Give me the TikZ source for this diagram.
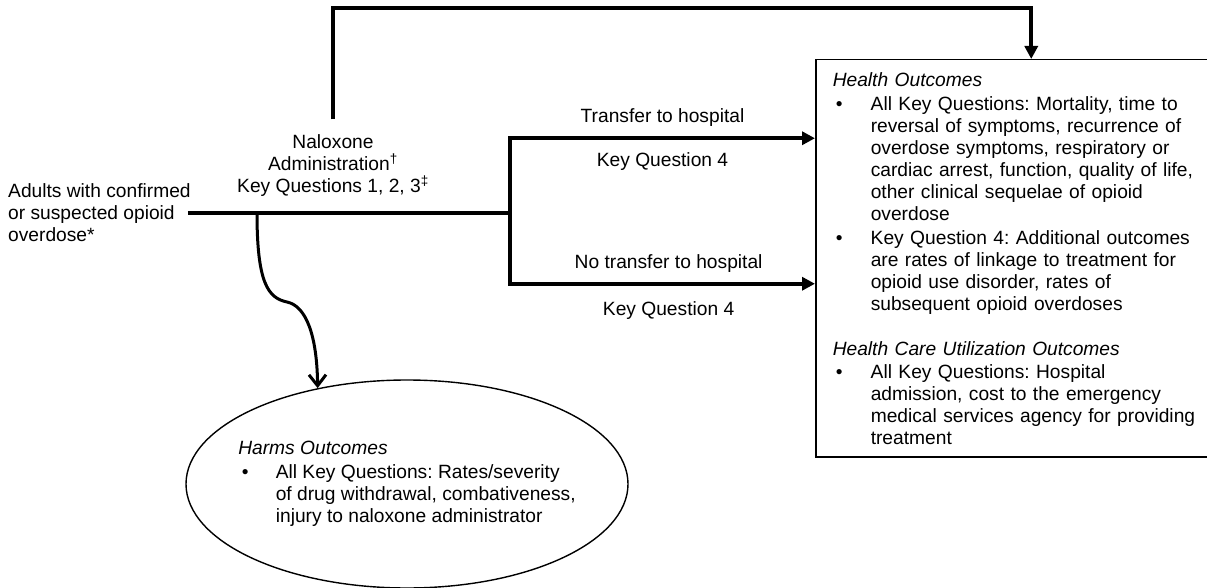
\documentclass[tikz,border=0pt]{standalone}
\usepackage{fontspec}
\setmainfont{Liberation Sans}
\usepackage{array}
\usetikzlibrary{arrows.meta,shapes.geometric}

\newcommand{\outhead}[1]{\multicolumn{2}{@{}l@{}}{\itshape #1}}
\frenchspacing

\tikzset{
  flow/.style={line width=4pt},
  arr/.style={flow, -{Triangle[length=13pt,width=13pt]}},
  harmarr/.style={line width=3pt, -{Straight Barb[length=11pt,width=17pt]}},
  lbl/.style={inner sep=0pt, align=center},
  outbox/.style={draw, line width=1.5pt, rectangle, inner ysep=0pt, inner xsep=17pt,
    text width=380pt, align=left, minimum height=397pt},
  harmsshape/.style={draw, line width=1.4pt, ellipse, inner sep=0pt,
    minimum width=442pt, minimum height=208pt}
}

\begin{document}
\begin{tikzpicture}[x=1pt, y=-1pt, font=\fontsize{19.2}{22}\selectfont]
	\useasboundingbox (0,0) rectangle (1207,588);

	\node [lbl, align=left, anchor=west] (adults) at (8,213)
		{Adults with confirmed\\or suspected opioid\\overdose*};
	\node [lbl, inner ysep=15.5pt] (nalox) at (333,166)
		{Naloxone\\Administration\textsuperscript{†}\\Key Questions 1, 2, 3\textsuperscript{‡}};

	\node [outbox, anchor=north west] (health) at (815,59) {%
		\begin{tabular}{@{\hspace{3pt}}p{35pt}@{}l@{}}
			\outhead{\rule{0pt}{20.5pt}Health Outcomes}\\[2pt]
			\textbullet & All Key Questions: Mortality, time to\\
			& reversal of symptoms, recurrence of\\
			& overdose symptoms, respiratory or\\
			& cardiac arrest, function, quality of life,\\
			& other clinical sequelae of opioid\\
			& overdose\\[2pt]
			\textbullet & Key Question 4: Additional outcomes\\
			& are rates of linkage to treatment for\\
			& opioid use disorder, rates of\\
			& subsequent opioid overdoses\\[23pt]
			\outhead{Health Care Utilization Outcomes}\\[1pt]
			\textbullet & All Key Questions: Hospital\\
			& admission, cost to the emergency\\
			& medical services agency for providing\\
			& treatment
		\end{tabular}};

	\node [harmsshape] (harms) at (407,484) {\makebox[0pt]{%
		\begin{tabular}{@{\hspace{3.5pt}}p{34pt}@{}l@{}}
			\outhead{Harms Outcomes}\\[2pt]
			\textbullet & All Key Questions: Rates/severity\\
			& of drug withdrawal, combativeness,\\
			& injury to naloxone administrator
		\end{tabular}}};

	\coordinate (split) at (257,213);
	\coordinate (fork) at (510,213);

	% main line and the two branches
	\draw [flow] ([xshift=-3pt]adults.east) -- (fork);
	\draw [arr] (fork) |- ([yshift=120pt]health.west)
		node [lbl, pos=0.75, above=10pt] {Transfer to hospital}
		node [lbl, pos=0.75, below=12pt] {Key Question 4};
	\draw [arr] (fork) |- ([yshift=-25.5pt]health.west)
		node [lbl, pos=0.76, above=9.5pt] {No transfer to hospital}
		node [lbl, pos=0.76, below=16pt] {Key Question 4};

	% naloxone straight to outcomes
	\draw [arr] (nalox.north) -- ++(0,-111) -| ([xshift=8.5pt]health.north);

	% harms
	\draw [harmarr] (split) .. controls +(0,70) and (268,298) .. (287,302)
		.. controls (306,306) and (317,335) .. (harms.133.5);
\end{tikzpicture}
\end{document}
